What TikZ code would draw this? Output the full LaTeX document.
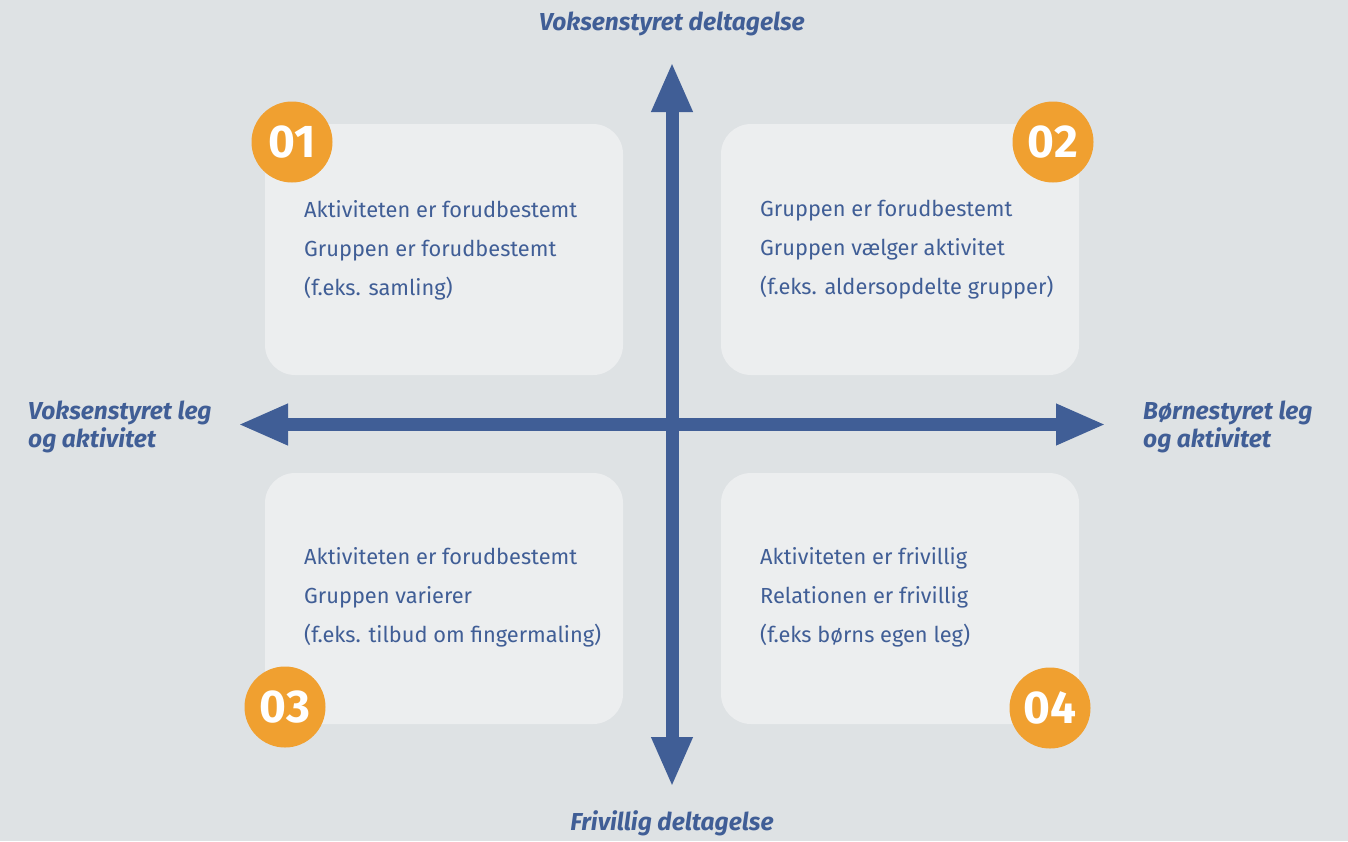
\documentclass[tikz,border=0pt]{standalone}
\usepackage{fontspec}
\setmainfont{Fira Sans}
\usetikzlibrary{arrows.meta,positioning}
\definecolor{axisblue}{HTML}{405E96}
\definecolor{badgeorange}{HTML}{F0A030}
\definecolor{paper}{HTML}{DEE2E4}
\definecolor{cardgray}{HTML}{ECEEEF}

\begin{document}
\begin{tikzpicture}[
    x=1pt, y=-1pt,
    card/.style={fill=cardgray, rounded corners=30pt, minimum width=358pt, minimum height=251pt, inner sep=0pt},
    badge/.style={circle, fill=badgeorange, minimum size=81pt, inner sep=0pt, text=white, font=\fontsize{46}{46}\selectfont\bfseries},
    cardtext/.style={anchor=north west, inner sep=0pt, align=left, text=axisblue, font=\fontsize{21.8}{39}\selectfont},
    caption/.style={text=axisblue, inner sep=0pt, font=\fontsize{24.5}{28}\selectfont\bfseries\itshape},
    axis/.style={draw=axisblue, line width=13pt, >={Triangle[length=50pt, width=38pt]}, <->}
]
% Background
\useasboundingbox (0,0) rectangle (1348,841);
\fill[paper] (0,0) rectangle (1348,841);

% Quadrant cards
\node[card] (q1) at (444,249.5) {};
\node[card] (q2) at (900,249.5) {};
\node[card] (q3) at (444,598.5) {};
\node[card] (q4) at (900,598.5) {};

% Card texts
\node[cardtext] (t1) at (304,200) {Aktiviteten er forudbestemt\\Gruppen er forudbestemt\\(f.eks. samling)};
\node[cardtext] (t2) at (760,200) {Gruppen er forudbestemt\\Gruppen vælger aktivitet\\(f.eks. aldersopdelte grupper)};
\node[cardtext] (t3) at (304,547) {Aktiviteten er forudbestemt\\Gruppen varierer\\(f.eks. tilbud om fingermaling)};
\node[cardtext] (t4) at (760,547) {Aktiviteten er frivillig\\Relationen er frivillig\\(f.eks børns egen leg)};

% Number badges
\node[badge] (b1) at (292,142) {01};
\node[badge] (b2) at (1053,142) {02};
\node[badge] (b3) at (285,707) {03};
\node[badge] (b4) at (1050,708) {04};

% Axes
\coordinate (top) at (672,62);
\coordinate (bottom) at (672,787);
\coordinate (left) at (238,424.5);
\coordinate (right) at (1106,424.5);
\draw[axis] (bottom) -- (top);
\draw[axis] (left) -- (right);

% Axis captions
\node[caption] (ctop) at (672,24) {Voksenstyret deltagelse};
\node[caption] (cbottom) at (672,823) {Frivillig deltagelse};
\node[caption, anchor=west, align=left] (cleft) at (28,427) {Voksenstyret leg\\og aktivitet};
\node[caption, anchor=west, align=left] (cright) at (1143,427) {Børnestyret leg\\og aktivitet};

\end{tikzpicture}
\end{document}
